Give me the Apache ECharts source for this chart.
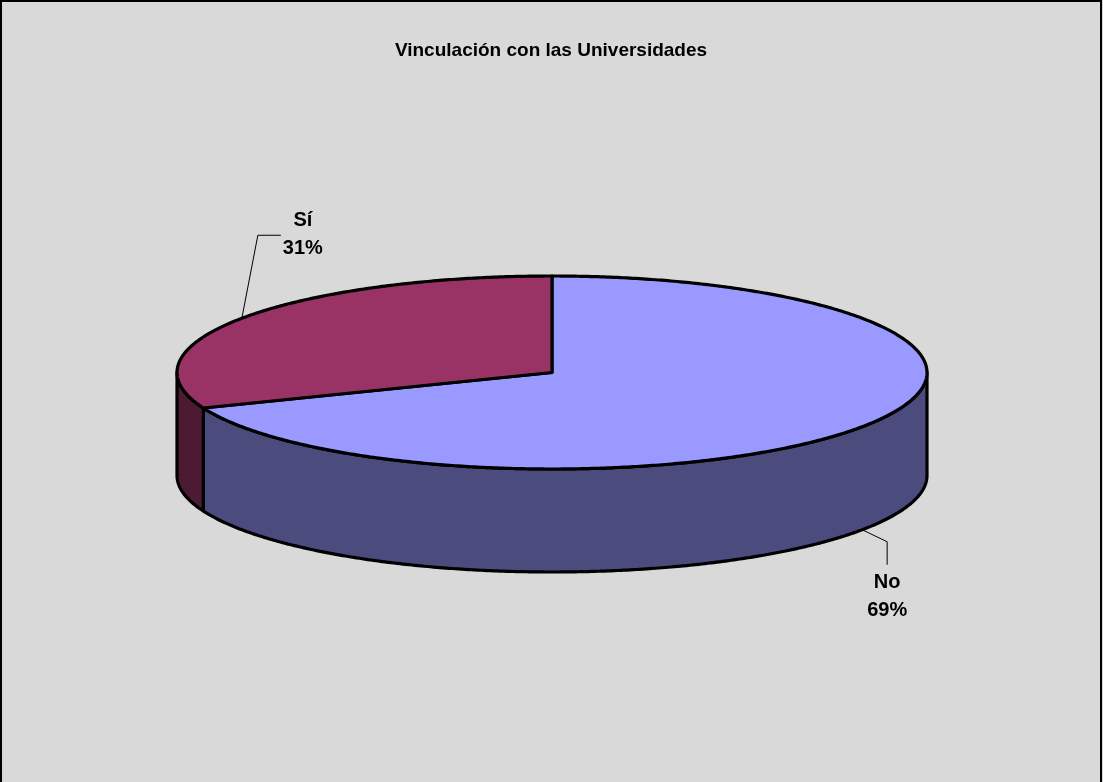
<!DOCTYPE html>
<html>
<head>
<meta charset="utf-8">
<script src="https://cdn.jsdelivr.net/npm/echarts@6/dist/echarts.min.js"></script>
<style>
  html, body { margin: 0; padding: 0; background: #d9d9d9; }
  #chart { width: 1103px; height: 782px; }
</style>
</head>
<body>
<div id="chart"></div>
<script>
// Chart data
const titleText = 'Vinculación con las Universidades';
const categories = ['No', 'Sí'];
const values = [69, 31];

// Styling
const topColors = ['#9999ff', '#993366'];
const sideColors = ['#4b4b7e', '#4d1a33'];
const FONT = '"Liberation Sans", Arial, Helvetica, sans-serif';
const EDGE = 3.2;

// 3D pie geometry (ellipse centre, radii, wall height)
const geo = { cx: 552, cy: 372.5, rx: 375, ry: 96.5, depth: 103 };

// Leader line and label placement, relative to the anchor on the slice rim
const labelLayout = [
  { elbow: [25, 12], end: [25, 35], name: [25, 52.4], pct: [25, 80.7] },
  { elbow: [16, -83], end: [39, -83], name: [61, -97.6], pct: [61, -69.6] }
];

const total = values.reduce((a, b) => a + b, 0);
const rad = d => d * Math.PI / 180;
function pt(deg, dy) {
  return [geo.cx + geo.rx * Math.cos(rad(deg)), geo.cy - geo.ry * Math.sin(rad(deg)) + (dy || 0)];
}
// Slices run clockwise from 12 o'clock
function sliceAngles(i) {
  let before = 0;
  for (let k = 0; k < i; k++) before += values[k];
  const a0 = 90 - before / total * 360;
  const a1 = a0 - values[i] / total * 360;
  return [a1, a0];
}
function arcPoints(from, to, dy) {
  const n = Math.max(2, Math.ceil(Math.abs(to - from) / 0.5));
  const out = [];
  for (let s = 0; s <= n; s++) out.push(pt(from + (to - from) * s / n, dy));
  return out;
}

function renderSide(params, api) {
  const i = params.dataIndex;
  const [a1, a0] = sliceAngles(i);
  const children = [];
  // front half of the rim: sin(theta) <= 0
  for (let k = -2; k <= 2; k++) {
    const lo = Math.max(a1, -180 + 360 * k);
    const hi = Math.min(a0, 360 * k);
    if (hi - lo > 1e-6) {
      const topEdge = arcPoints(lo, hi, 0);
      const bottomEdge = arcPoints(hi, lo, geo.depth);
      children.push({
        type: 'polygon',
        shape: { points: topEdge.concat(bottomEdge) },
        style: { fill: sideColors[i], stroke: '#000', lineWidth: EDGE, lineJoin: 'round' }
      });
    }
  }
  return { type: 'group', children };
}

function renderTop(params, api) {
  const i = params.dataIndex;
  const [a1, a0] = sliceAngles(i);
  const pts = [[geo.cx, geo.cy]].concat(arcPoints(a0, a1, 0));
  const children = [{
    type: 'polygon',
    shape: { points: pts },
    style: { fill: topColors[i], stroke: '#000', lineWidth: EDGE, lineJoin: 'round' }
  }];

  const mid = (a0 + a1) / 2;
  const front = Math.sin(rad(mid)) < 0;
  const anchor = pt(mid, front ? geo.depth : 0);
  const L = labelLayout[i];
  const at = o => [anchor[0] + o[0], anchor[1] + o[1]];
  children.push({
    type: 'polyline',
    shape: { points: [anchor, at(L.elbow), at(L.end)] },
    style: { stroke: '#000', lineWidth: 1, fill: null }
  });
  const textStyle = (p, s) => ({
    type: 'text',
    x: p[0], y: p[1],
    style: { text: s, fill: '#000', font: 'bold 20px ' + FONT, align: 'center', verticalAlign: 'middle' }
  });
  children.push(textStyle(at(L.name), categories[i]));
  children.push(textStyle(at(L.pct), Math.round(values[i] / total * 100) + '%'));
  return { type: 'group', children };
}

const chart = echarts.init(document.getElementById('chart'), null, { renderer: 'canvas' });
chart.setOption({
  backgroundColor: '#d9d9d9',
  animation: false,
  graphic: [
    {
      type: 'rect', z: 100,
      shape: { x: 1, y: 1, width: 1100, height: 820 },
      style: { fill: null, stroke: '#000', lineWidth: 2 }
    },
    {
      type: 'text', z: 100,
      x: 551, y: 50.5,
      style: { text: titleText, fill: '#000', font: 'bold 19px ' + FONT, align: 'center', verticalAlign: 'middle' }
    }
  ],
  series: [
    {
      type: 'custom', name: 'lado', coordinateSystem: 'none', silent: true, z: 1,
      data: values.map((v, i) => ({ name: categories[i], value: v })),
      renderItem: renderSide
    },
    {
      type: 'custom', name: 'tapa', coordinateSystem: 'none', silent: true, z: 2,
      data: values.map((v, i) => ({ name: categories[i], value: v })),
      renderItem: renderTop
    }
  ]
});
</script>
</body>
</html>
